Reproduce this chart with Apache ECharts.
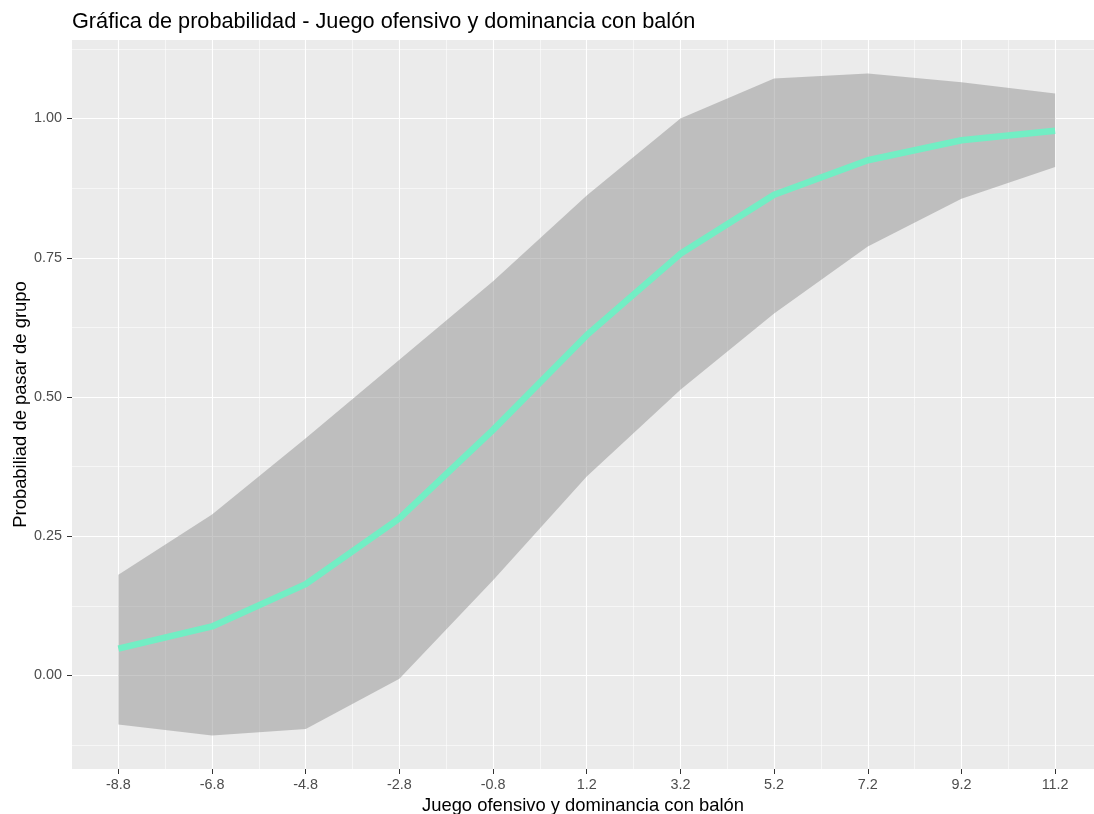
<!DOCTYPE html>
<html>
<head>
<meta charset="utf-8">
<title>Gráfica de probabilidad</title>
<script src="https://cdn.jsdelivr.net/npm/echarts@6/dist/echarts.min.js"></script>
<style>
  html, body { margin: 0; padding: 0; background: #ffffff; }
  #chart { width: 1094px; height: 814px; }
</style>
</head>
<body>
<div id="chart"></div>
<script>
// Juego ofensivo y dominancia con balón (predictor values)
const xValues = [-8.8, -6.8, -4.8, -2.8, -0.8, 1.2, 3.2, 5.2, 7.2, 9.2, 11.2];
// Predicted probability of advancing from the group
const probability = [0.048, 0.088, 0.164, 0.282, 0.441, 0.611, 0.757, 0.863, 0.925, 0.961, 0.978];
// Confidence band limits
const upperBound = [0.181, 0.289, 0.426, 0.567, 0.708, 0.862, 1.000, 1.072, 1.081, 1.065, 1.045];
const lowerBound = [-0.088, -0.108, -0.096, -0.006, 0.171, 0.357, 0.513, 0.650, 0.770, 0.856, 0.913];

// Tick positions
const xMajorTicks = [-8.8, -6.8, -4.8, -2.8, -0.8, 1.2, 3.2, 5.2, 7.2, 9.2, 11.2];
const xMinorTicks = [-7.8, -5.8, -3.8, -1.8, 0.2, 2.2, 4.2, 6.2, 8.2, 10.2];
const yMajorTicks = [0, 0.25, 0.5, 0.75, 1.0];
const yMinorTicks = [-0.125, 0.125, 0.375, 0.625, 0.875, 1.125];

const FONT = '"Liberation Sans", Arial, sans-serif';

const chart = echarts.init(document.getElementById('chart'), null, { renderer: 'canvas' });

const xMin = -9.79, xMax = 12.03;
const yMin = -0.168, yMax = 1.141;

function majorAxis(ticks, decimals, labelMargin) {
  return {
    type: 'value',
    axisLine: { show: false, onZero: false },
    axisTick: { show: true, length: 5, customValues: ticks, lineStyle: { color: '#333333', width: 1 } },
    axisLabel: {
      show: true, customValues: ticks, color: '#4D4D4D', fontSize: 14.4, fontFamily: FONT, margin: labelMargin,
      formatter: v => Number(v).toFixed(decimals)
    },
    splitLine: { show: true, lineStyle: { color: '#FFFFFF', width: 1.1 } }
  };
}
function minorAxis(ticks) {
  return {
    type: 'value',
    axisLine: { show: false, onZero: false },
    axisTick: { show: false, customValues: ticks },
    axisLabel: { show: false, customValues: ticks },
    splitLine: { show: true, lineStyle: { color: '#FFFFFF', width: 0.55 } }
  };
}

const xMajor = Object.assign(majorAxis(xMajorTicks, 1, 9), {
  min: xMin, max: xMax, position: 'bottom',
  name: 'Juego ofensivo y dominancia con balón',
  nameLocation: 'middle', nameGap: 28, nameMoveOverlap: false,
  nameTextStyle: { color: '#000000', fontSize: 18.4, fontFamily: FONT }
});
const xMinor = Object.assign(minorAxis(xMinorTicks), { min: xMin, max: xMax, position: 'bottom' });
const yMajor = Object.assign(majorAxis(yMajorTicks, 2, 10), {
  min: yMin, max: yMax, position: 'left',
  name: 'Probabiliad de pasar de grupo',
  nameLocation: 'middle', nameGap: 42, nameRotate: 90, nameMoveOverlap: false,
  nameTextStyle: { color: '#000000', fontSize: 18.4, fontFamily: FONT }
});
const yMinor = Object.assign(minorAxis(yMinorTicks), { min: yMin, max: yMax, position: 'left' });

const lineData = xValues.map((x, i) => [x, probability[i]]);

// Confidence band: one polygon, upper limit left to right then lower limit back
function renderBand(params, api) {
  const pts = [];
  for (let i = 0; i < xValues.length; i++) pts.push(api.coord([xValues[i], upperBound[i]]));
  for (let i = xValues.length - 1; i >= 0; i--) pts.push(api.coord([xValues[i], lowerBound[i]]));
  return {
    type: 'polygon',
    shape: { points: pts },
    style: { fill: 'rgba(145,145,145,0.5)', stroke: 'none' },
    silent: true
  };
}

chart.setOption({
  animation: false,
  backgroundColor: '#FFFFFF',
  title: {
    text: 'Gráfica de probabilidad - Juego ofensivo y dominancia con balón',
    left: 67, top: 6,
    textStyle: { color: '#000000', fontSize: 21.7, fontWeight: 'normal', fontFamily: FONT }
  },
  grid: {
    left: 72, right: 0, top: 40, bottom: 45,
    containLabel: false, outerBoundsMode: 'none',
    show: true, backgroundColor: '#EBEBEB', borderWidth: 0
  },
  xAxis: [xMajor, xMinor],
  yAxis: [yMajor, yMinor],
  series: [
    {
      name: 'Intervalo',
      type: 'custom',
      xAxisIndex: 0, yAxisIndex: 0,
      renderItem: renderBand,
      data: [[xValues[0], upperBound[0]]],
      clip: true,
      z: 2
    },
    {
      name: 'Probabilidad',
      type: 'line',
      xAxisIndex: 0, yAxisIndex: 0,
      data: lineData,
      symbol: 'none',
      lineStyle: { color: '#72EEC4', width: 6.5, cap: 'butt', join: 'round' },
      z: 5
    }
  ]
});
</script>
</body>
</html>
